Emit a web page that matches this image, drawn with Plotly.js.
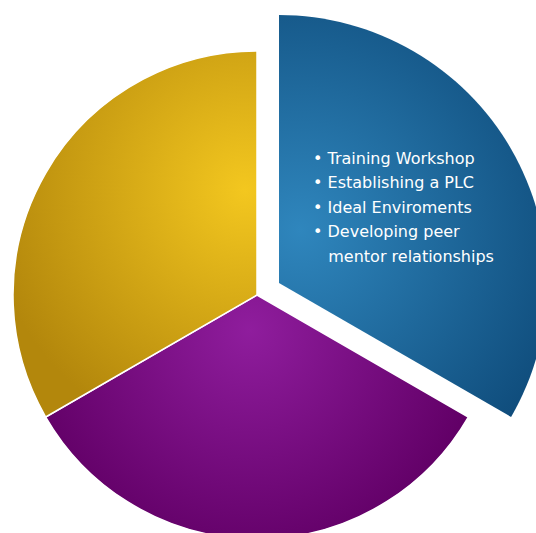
<!DOCTYPE html>
<html>
<head>
<meta charset="utf-8">
<script src="https://cdn.plot.ly/plotly-3.0.1.min.js"></script>
<style>
html,body{margin:0;padding:0;overflow:hidden;background:#fff;width:536px;height:533px;}
#chart{width:560px;height:560px;}
</style>
</head>
<body>
<div id="chart"></div>
<script>
// ---- data ----
var categories = ["Training & Support", "Segment 2", "Segment 3"];
var values = [1, 1, 1];
var sliceColors = ["#1f6a9e", "#7a1387", "#d4a713"];
var bulletItems = ["Training Workshop", "Establishing a PLC", "Ideal Enviroments", "Developing peer", "mentor relationships"];
var bulletFlags = [true, true, true, true, false];

// ---- layout helpers (pixel geometry of a 560x560 canvas) ----
var W = 560, H = 560;
function dom(cx, cy, r){
  return {x:[(cx - r)/W, (cx + r)/W], y:[1 - (cy + r)/H, 1 - (cy - r)/H]};
}
var T = "rgba(0,0,0,0)";

var baseTrace = {
  type: "pie",
  labels: categories,
  values: values,
  sort: false,
  direction: "clockwise",
  rotation: 0,
  textinfo: "none",
  hoverinfo: "skip",
  showlegend: false,
  domain: dom(257, 295, 244),
  marker: {
    colors: [T, sliceColors[1], sliceColors[2]],
    line: {color: "#ffffff", width: [0, 1.5, 1.5]}
  }
};
var bigTrace = {
  type: "pie",
  labels: categories,
  values: values,
  sort: false,
  direction: "clockwise",
  rotation: 0,
  textinfo: "none",
  hoverinfo: "skip",
  showlegend: false,
  domain: dom(279, 283, 268),
  marker: {
    colors: [sliceColors[0], T, T],
    line: {color: T, width: 0}
  }
};

var annotations = [];
var y0 = 158, dy = 24.6;
bulletItems.forEach(function(t, i){
  annotations.push({
    xref: "paper", yref: "paper",
    x: 311/W, y: 1 - (y0 + i*dy)/H,
    xanchor: "left", yanchor: "middle",
    showarrow: false, align: "left",
    text: (bulletFlags[i] ? "\u2022 " : "\u2007 ") + t,
    font: {family: "DejaVu Sans, sans-serif", size: 16, color: "#ffffff"}
  });
});

var layout = {
  width: W, height: H,
  margin: {l:0, r:0, t:0, b:0},
  paper_bgcolor: "#ffffff",
  plot_bgcolor: "#ffffff",
  showlegend: false,
  annotations: annotations
};

Plotly.newPlot("chart", [baseTrace, bigTrace], layout, {staticPlot: true, displayModeBar: false}).then(function(gd){
  // apply soft radial shading like the original
  var svg = gd.querySelector(".main-svg");
  var ns = "http://www.w3.org/2000/svg";
  var defs = svg.querySelector("defs") || svg.insertBefore(document.createElementNS(ns, "defs"), svg.firstChild);
  function grad(id, cx, cy, r, c0, c1){
    var g = document.createElementNS(ns, "radialGradient");
    g.setAttribute("id", id);
    g.setAttribute("gradientUnits", "userSpaceOnUse");
    g.setAttribute("cx", cx); g.setAttribute("cy", cy); g.setAttribute("r", r);
    [[0, c0], [1, c1]].forEach(function(s){
      var st = document.createElementNS(ns, "stop");
      st.setAttribute("offset", s[0]); st.setAttribute("stop-color", s[1]);
      g.appendChild(st);
    });
    defs.appendChild(g);
  }
  grad("gBlue", 300, 230, 330, "#2f86bd", "#0a4371");
  grad("gPurple", 250, 330, 230, "#8f1d9d", "#620067");
  grad("gGold", 245, 190, 260, "#f3c71f", "#b3870c");
  var traces = gd.querySelectorAll(".pielayer .trace");
  var map = [[null, "gPurple", "gGold"], ["gBlue", null, null]];
  traces.forEach(function(tr, ti){
    tr.querySelectorAll("g.slice path.surface").forEach(function(p, si){
      var id = map[ti] && map[ti][si];
      if (id) p.style.fill = "url(#" + id + ")";
    });
  });
});
</script>
</body>
</html>
